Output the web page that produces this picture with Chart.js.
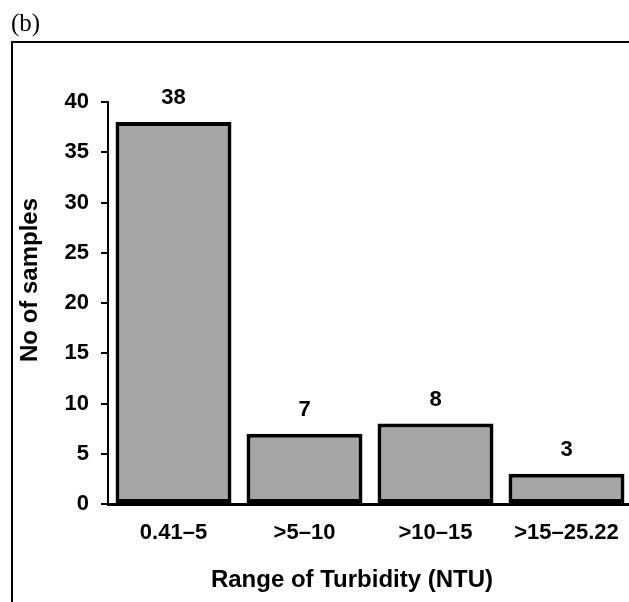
<!DOCTYPE html>
<html>
<head>
<meta charset="utf-8">
<script src="https://cdn.jsdelivr.net/npm/chart.js@4/dist/chart.umd.min.js"></script>
<style>
  html, body { margin: 0; padding: 0; background: #fff; overflow: hidden; width: 629px; height: 602px; }
  #frame { position: absolute; left: 11px; top: 41px; width: 700px; height: 700px; border: 2px solid #000; box-sizing: border-box; }
  #wrap { position: absolute; left: 0; top: 0; width: 640px; height: 602px; }
</style>
</head>
<body>
<div id="frame"></div>
<div id="wrap"><canvas id="c" width="640" height="602"></canvas></div>
<script>
const categories = ["0.41\u20135", ">5\u201310", ">10\u201315", ">15\u201325.22"];
const samples = [38, 7, 8, 3];
const yTicks = [0, 5, 10, 15, 20, 25, 30, 35, 40];
const xTitle = "Range of Turbidity (NTU)";
const yTitle = "No of samples";
const panelLabel = "(b)";

const FONT = "'Liberation Sans', Arial, sans-serif";

const overlay = {
  id: 'overlay',
  afterDatasetsDraw(chart) {
    const ctx = chart.ctx;
    ctx.save();
    ctx.fillStyle = '#000';
    // value labels above bars
    ctx.font = "bold 22px " + FONT;
    ctx.textAlign = 'center';
    ctx.textBaseline = 'middle';
    const meta = chart.getDatasetMeta(0);
    meta.data.forEach((bar, i) => {
      ctx.fillText(String(samples[i]), bar.x, bar.y - 24);
    });
    // axis titles
    ctx.font = "bold 24px " + FONT;
    ctx.textBaseline = 'alphabetic';
    ctx.fillText(xTitle, 352, 587);
    ctx.save();
    ctx.translate(37, 280);
    ctx.rotate(-Math.PI / 2);
    ctx.fillText(yTitle, 0, 0);
    ctx.restore();
    // panel label
    ctx.font = "25px 'Liberation Serif', 'Times New Roman', serif";
    ctx.textAlign = 'left';
    ctx.fillText(panelLabel, 11, 31);
    ctx.restore();
  }
};

new Chart(document.getElementById('c'), {
  type: 'bar',
  data: {
    labels: categories,
    datasets: [{
      data: samples,
      backgroundColor: '#a6a6a6',
      borderColor: '#000',
      borderWidth: 4,
      borderSkipped: false,
      barPercentage: 0.885,
      categoryPercentage: 1.0
    }]
  },
  options: {
    responsive: false,
    animation: false,
    layout: { padding: { top: 102, right: 8, bottom: 0, left: 0 } },
    plugins: { legend: { display: false }, tooltip: { enabled: false } },
    scales: {
      x: {
        offset: true,
        grid: { display: false, drawTicks: false },
        border: { display: true, color: '#000', width: 3 },
        ticks: { color: '#000', font: { family: FONT, size: 22, weight: 'bold' }, padding: 16, maxRotation: 0, autoSkip: false },
        afterFit(scale) { scale.height = 98; }
      },
      y: {
        min: 0, max: 40,
        afterBuildTicks(scale) { scale.ticks = yTicks.map(v => ({ value: v })); },
        grid: { drawOnChartArea: false, drawTicks: true, tickLength: 7, color: '#000', lineWidth: 2 },
        border: { display: true, color: '#000', width: 2 },
        ticks: { color: '#000', font: { family: FONT, size: 22, weight: 'bold' }, padding: 12 },
        afterFit(scale) { scale.width = 108; }
      }
    }
  },
  plugins: [overlay]
});
</script>
</body>
</html>
